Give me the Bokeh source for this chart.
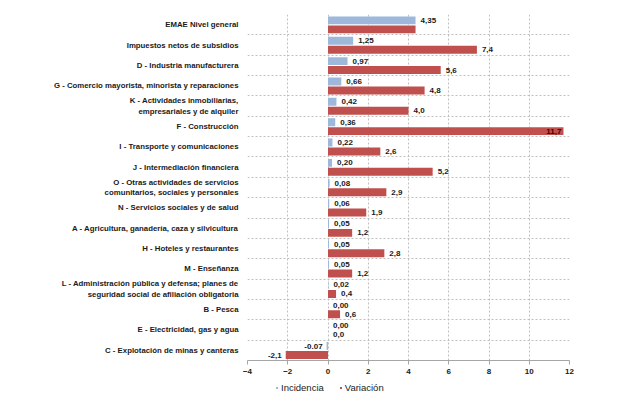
from bokeh.plotting import figure
from bokeh.layouts import column
from bokeh.models import ColumnDataSource, FixedTicker, Legend, LegendItem
from bokeh.core.properties import value
from bokeh.embed import file_html
from bokeh.resources import INLINE

categories = [
    "EMAE Nivel general",
    "Impuestos netos de subsidios",
    "D - Industria manufacturera",
    "G - Comercio mayorista, minorista y reparaciones",
    "K - Actividades inmobiliarias,\nempresariales y de alquiler",
    "F - Construcción",
    "I - Transporte y comunicaciones",
    "J - Intermediación financiera",
    "O - Otras actividades de servicios\ncomunitarios, sociales y personales",
    "N - Servicios sociales y de salud",
    "A - Agricultura, ganadería, caza y silvicultura",
    "H - Hoteles y restaurantes",
    "M - Enseñanza",
    "L - Administración pública y defensa; planes de\nseguridad social de afiliación obligatoria",
    "B - Pesca",
    "E - Electricidad, gas y agua",
    "C - Explotación de minas y canteras",
]
incidencia = [4.35, 1.25, 0.97, 0.66, 0.42, 0.36, 0.22, 0.20, 0.08, 0.06, 0.05, 0.05, 0.05, 0.02, 0.00, 0.00, -0.07]
variacion = [4.35, 7.4, 5.6, 4.8, 4.0, 11.7, 2.6, 5.2, 2.9, 1.9, 1.2, 2.8, 1.2, 0.4, 0.6, 0.0, -2.1]
inc_labels = ["4,35", "1,25", "0,97", "0,66", "0,42", "0,36", "0,22", "0,20", "0,08", "0,06", "0,05", "0,05", "0,05", "0,02", "0,00", "0,00", "-0.07"]
var_labels = ["", "7,4", "5,6", "4,8", "4,0", "11,7", "2,6", "5,2", "2,9", "1,9", "1,2", "2,8", "1,2", "0,4", "0,6", "0,0", "-2,1"]
x_ticks = [-4, -2, 0, 2, 4, 6, 8, 10, 12]
series_names = ["Incidencia", "Variación"]

BLUE = "#9DB8DA"
RED = "#C0504D"
FONT = "Liberation Sans"

n = len(categories)
centers = [n - 0.5 - i for i in range(n)]

def label_geom(vals, big_inside=None):
    align, off, col = [], [], []
    for v in vals:
        if big_inside is not None and v >= big_inside:
            align.append("right"); off.append(-2); col.append("#3a0000")
        elif v < 0:
            align.append("right"); off.append(-4); col.append("#1a1a1a")
        else:
            align.append("left"); off.append(5); col.append("#1a1a1a")
    return align, off, col

ia, io, ic = label_geom(incidencia)
va, vo, vc = label_geom(variacion, big_inside=11)

src_i = ColumnDataSource(dict(y=[c + 0.21 for c in centers], v=incidencia, t=inc_labels, a=ia, o=io, c=ic))
src_v = ColumnDataSource(dict(y=[c - 0.23 for c in centers], v=variacion, t=var_labels, a=va, o=vo, c=vc))

p = figure(width=611, height=378, x_range=(-4, 12), y_range=(0, n),
           output_backend="svg", toolbar_location=None,
           min_border_left=247, min_border_right=42, min_border_top=14, min_border_bottom=18)
p.outline_line_color = None
p.background_fill_color = "white"

p.hbar(y="y", right="v", left=0, height=0.39, source=src_i, fill_color=BLUE, line_color=None)
p.hbar(y="y", right="v", left=0, height=0.39, source=src_v, fill_color=RED, line_color=None)

for s in (src_i, src_v):
    p.text(x="v", y="y", text="t", source=s, text_align="a", x_offset="o",
           text_baseline="middle", text_color="c", text_font=value(FONT),
           text_font_size="8px", text_font_style="bold")

# axes
p.xaxis.ticker = FixedTicker(ticks=x_ticks)
p.xaxis.axis_line_color = "#A6A6A6"
p.xaxis.major_tick_line_color = "#A6A6A6"
p.xaxis.major_tick_out = 4
p.xaxis.major_tick_in = 0
p.xaxis.minor_tick_line_color = None
p.xaxis.major_label_text_font = FONT
p.xaxis.major_label_text_font_size = "8px"
p.xaxis.major_label_text_font_style = "bold"
p.xaxis.major_label_text_color = "#1a1a1a"
p.xaxis.major_label_standoff = 4

p.yaxis.ticker = FixedTicker(ticks=centers)
p.yaxis.major_label_overrides = {c: lab for c, lab in zip(centers, categories)}
p.yaxis.axis_line_color = None
p.yaxis.major_tick_line_color = None
p.yaxis.minor_tick_line_color = None
p.yaxis.major_label_text_font = FONT
p.yaxis.major_label_text_font_size = "7.8px"
p.yaxis.major_label_text_font_style = "bold"
p.yaxis.major_label_text_color = "#1a1a1a"
p.yaxis.major_label_standoff = 3

p.xgrid.ticker = FixedTicker(ticks=x_ticks)
p.xgrid.bounds = (-5, 13)
p.ygrid.ticker = FixedTicker(ticks=list(range(1, n + 1)))
p.ygrid.bounds = (-1, n + 1)
for g in (p.xgrid, p.ygrid):
    g.grid_line_color = "#BFBFBF"
    g.grid_line_dash = "2 2"
    g.grid_line_width = 1

# legend strip (its ranges lie outside the data, so only the legend shows)
p2 = figure(width=611, height=20, x_range=(100, 101), y_range=(100, 101),
            output_backend="svg", toolbar_location=None,
            x_axis_type=None, y_axis_type=None, min_border=0)
p2.outline_line_color = None
p2.grid.visible = False
d1 = p2.scatter(x="v", y="y", source=src_i, marker="square", size=5,
                fill_color=BLUE, line_color=None)
d2 = p2.scatter(x="v", y="y", source=src_v, marker="square", size=5,
                fill_color=RED, line_color=None)
legend = Legend(items=[LegendItem(label=series_names[0], renderers=[d1]),
                       LegendItem(label=series_names[1], renderers=[d2])],
                orientation="horizontal", location=(27, 5),
                label_text_font=FONT, label_text_font_size="9.5px",
                label_text_color="#1a1a1a", glyph_width=5, glyph_height=5,
                label_standoff=2, spacing=14, padding=2, margin=0,
                border_line_color=None, background_fill_alpha=0, label_height=10)
p2.add_layout(legend)

layout = column(p, p2, spacing=0)
open("out.html", "w").write(file_html(layout, INLINE))
